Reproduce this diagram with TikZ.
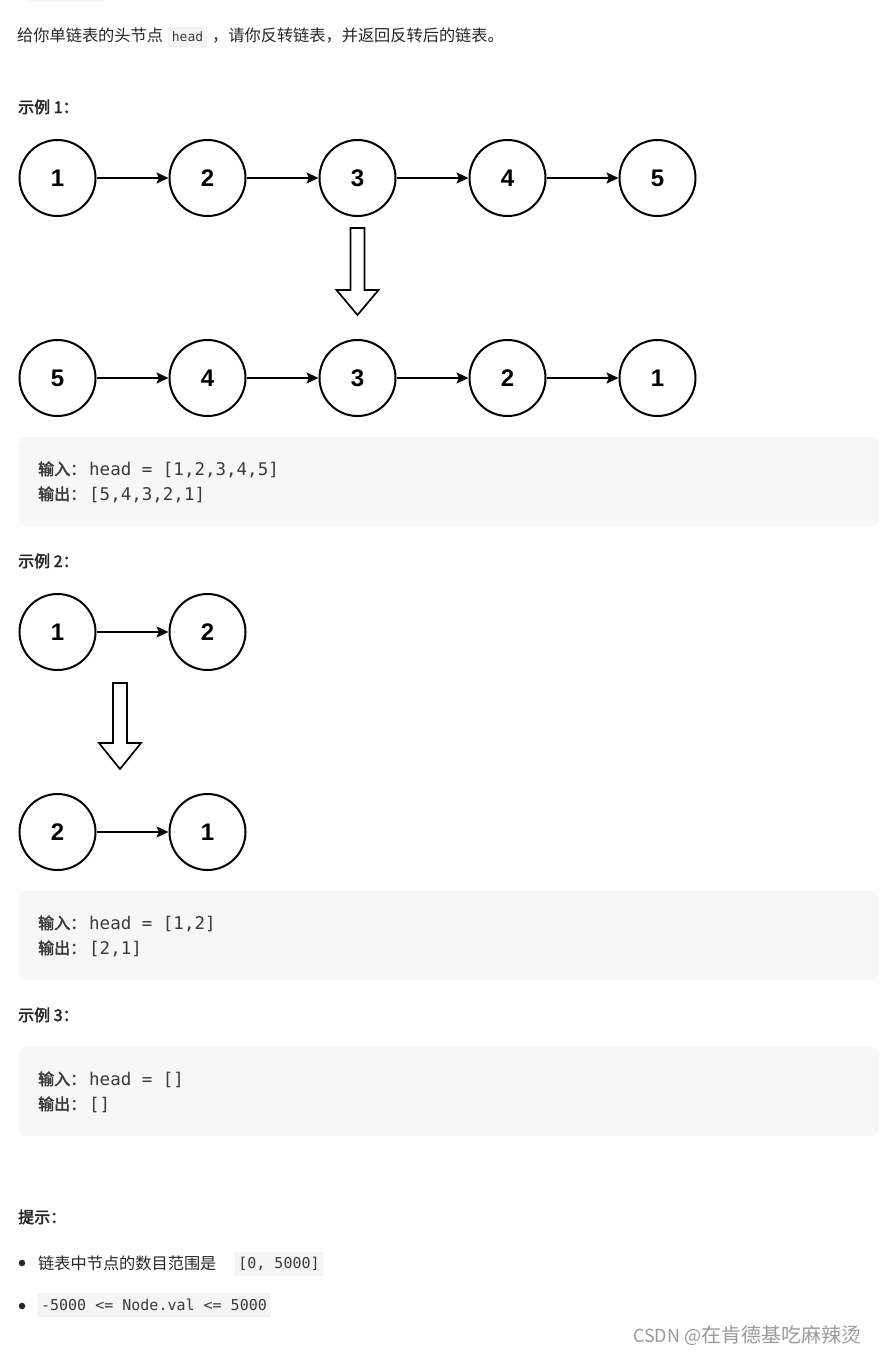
\documentclass[tikz,border=0pt]{standalone}
\usepackage{fontspec}
\setmainfont{Liberation Sans}
\newfontfamily\cjk{Noto Sans CJK SC}[AutoFakeBold=2.5]
\newfontfamily\mono{DejaVu Sans Mono}
\usetikzlibrary{arrows.meta}
\definecolor{textdark}{HTML}{262626}
\definecolor{codegray}{HTML}{3A3A3A}
\definecolor{boxgray}{HTML}{F7F7F8}
\definecolor{chipgray}{HTML}{F5F5F6}
\definecolor{chipborder}{HTML}{E6E6E8}
\definecolor{markgray}{HTML}{9A9A9A}
\begin{document}
\begin{tikzpicture}[x=1pt,y=-1pt,
  ll/.style={draw=black,line width=2pt,circle,minimum size=76pt,inner sep=0pt,
    font=\fontsize{24}{24}\selectfont\bfseries},
  lk/.style={-{Stealth[length=12pt,width=11pt,inset=2.5pt]},line width=1.8pt},
  bigarrow/.style={draw=black,line width=1.7pt,fill=white,line join=miter},
  codebox/.style={fill=boxgray,rounded corners=8pt,inner sep=0pt,minimum width=861pt,minimum height=89pt},
  chip/.style={draw=chipborder,fill=chipgray,rounded corners=3pt,inner sep=0pt,text=codegray},
  cn/.style={anchor=base west,inner sep=0pt,font=\cjk\fontsize{16.2}{16.2}\selectfont,text=textdark},
  cnb/.style={cn,font=\cjk\bfseries\fontsize{16}{16}\selectfont},
  codeline/.style={anchor=base west,inner sep=0pt,text=codegray},
  dot/.style={circle,fill=textdark,inner sep=0pt,minimum size=6.5pt}
]
\useasboundingbox (0,0) rectangle (879,1355);
\fill[boxgray] (25,-6) [rounded corners=3pt] rectangle (105,2);

% intro
\node[cn] (intro1) at (17,41) {给你单链表的头节点};
\node[chip,minimum width=39pt,minimum height=20pt,font=\mono\fontsize{13}{13}\selectfont] (chiphead) at (187.5,37) {head};
\node[cn] (intro2) at (212,41) {，请你反转链表，并返回反转后的链表。};

% example 1
\node[cnb] (ex1) at (18,113) {示例 1：};
\foreach \v [count=\i] in {1,2,3,4,5}
  \node[ll] (a\i) at ({57.5+150*(\i-1)},178) {\v};
\foreach \v [count=\i] in {5,4,3,2,1}
  \node[ll] (b\i) at ({57.5+150*(\i-1)},378) {\v};
\foreach \i [evaluate=\i as \j using int(\i+1)] in {1,2,3,4} {
  \draw[lk] (a\i) -- (a\j);
  \draw[lk] (b\i) -- (b\j);
}
\draw[bigarrow] (350.5,228) -- (364.5,228) -- (364.5,290) -- (378.5,290) -- (357.5,315) -- (336.5,290) -- (350.5,290) -- cycle;

\node[codebox,anchor=north west] (box1) at (18,437) {};
\node[codeline] (in1) at (38,475) {{\cjk\bfseries\fontsize{16}{16}\selectfont 输入：}\hspace{3pt}{\mono\fontsize{17.5}{17.5}\selectfont head = [1,2,3,4,5]}};
\node[codeline] (out1) at (38,500) {{\cjk\bfseries\fontsize{16}{16}\selectfont 输出：}\hspace{3pt}{\mono\fontsize{17.5}{17.5}\selectfont [5,4,3,2,1]}};

% example 2
\node[cnb] (ex2) at (18,567) {示例 2：};
\node[ll] (c1) at (57.5,632) {1};
\node[ll] (c2) at (207.5,632) {2};
\draw[lk] (c1) -- (c2);
\draw[bigarrow] (113,683) -- (127,683) -- (127,743) -- (141,743) -- (120,769) -- (99,743) -- (113,743) -- cycle;
\node[ll] (d1) at (57.5,832) {2};
\node[ll] (d2) at (207.5,832) {1};
\draw[lk] (d1) -- (d2);

\node[codebox,anchor=north west] (box2) at (18,891) {};
\node[codeline] (in2) at (38,929) {{\cjk\bfseries\fontsize{16}{16}\selectfont 输入：}\hspace{3pt}{\mono\fontsize{17.5}{17.5}\selectfont head = [1,2]}};
\node[codeline] (out2) at (38,954) {{\cjk\bfseries\fontsize{16}{16}\selectfont 输出：}\hspace{3pt}{\mono\fontsize{17.5}{17.5}\selectfont [2,1]}};

% example 3
\node[cnb] (ex3) at (18,1021) {示例 3：};
\node[codebox,anchor=north west] (box3) at (18,1047) {};
\node[codeline] (in3) at (38,1085) {{\cjk\bfseries\fontsize{16}{16}\selectfont 输入：}\hspace{3pt}{\mono\fontsize{17.5}{17.5}\selectfont head = []}};
\node[codeline] (out3) at (38,1110) {{\cjk\bfseries\fontsize{16}{16}\selectfont 输出：}\hspace{3pt}{\mono\fontsize{17.5}{17.5}\selectfont []}};

% hints
\node[cnb] (hint) at (18,1223) {提示：};
\node[dot] (dot1) at (22,1263) {};
\node[cn] (h1) at (38,1269) {链表中节点的数目范围是};
\node[chip,minimum width=88pt,minimum height=24pt,font=\mono\fontsize{15}{15}\selectfont] (chip1) at (279,1264) {[0, 5000]};
\node[dot] (dot2) at (22,1306) {};
\node[chip,minimum width=232pt,minimum height=24pt,font=\mono\fontsize{15}{15}\selectfont] (chip2) at (154,1305) {-5000 <= Node.val <= 5000};

% watermark
\node[anchor=base west,inner sep=0pt,font=\cjk\fontsize{18}{18}\selectfont,text=markgray] (mark) at (633,1342) {CSDN @{\fontsize{20}{20}\selectfont 在肯德基吃麻辣烫}};
\end{tikzpicture}
\end{document}
